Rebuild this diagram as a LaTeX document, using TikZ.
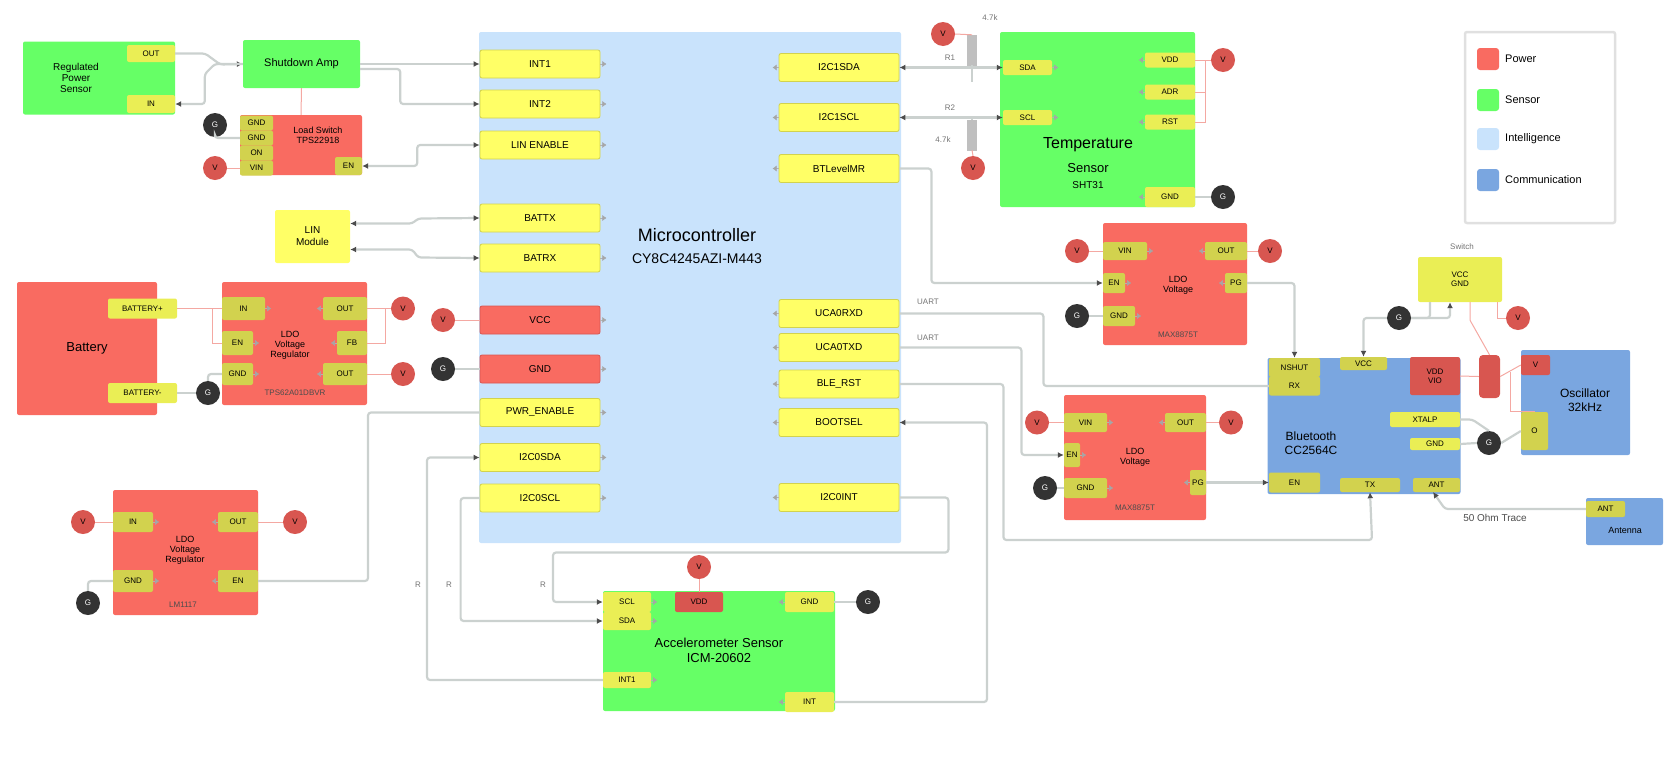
\documentclass[tikz,border=0pt]{standalone}
\usepackage{fontspec}
\setmainfont{Liberation Sans}
\usetikzlibrary{arrows.meta}
\definecolor{pwrred}{HTML}{F96B61}
\definecolor{sengreen}{HTML}{66FF66}
\definecolor{mcublue}{HTML}{C9E3FC}
\definecolor{comblue}{HTML}{7AA6E0}
\definecolor{padyellow}{HTML}{FFFF66}
\definecolor{padonred}{HTML}{D2D24E}
\definecolor{padongreen}{HTML}{EAEE55}
\definecolor{wirecol}{HTML}{CBD1CF}
\definecolor{redwire}{HTML}{F4A8A2}
\definecolor{dotred}{HTML}{D85650}
\tikzset{
 block/.style={rounded corners=2pt,inner sep=0pt,align=center,font=\fontsize{10}{12}\selectfont},
 pwrbox/.style={block,fill=pwrred},
 senbox/.style={block,fill=sengreen},
 mcubox/.style={block,fill=mcublue},
 combox/.style={block,fill=comblue},
 ybox/.style={block,fill=padyellow},
 mcupad/.style={block,fill=padyellow,draw=padonred,line width=.8pt,minimum width=120pt,minimum height=28pt},
 mcured/.style={mcupad,fill=pwrred,draw=dotred},
 redpad/.style={block,fill=padonred,font=\fontsize{8}{9}\selectfont},
 grnpad/.style={block,fill=padongreen,font=\fontsize{8}{9}\selectfont},
 combad/.style={block,fill=dotred,font=\fontsize{8}{9}\selectfont},
 vdot/.style={circle,fill=dotred,minimum size=24pt,inner sep=0pt,font=\fontsize{8}{9}\selectfont},
 gdot/.style={circle,fill=black!80,text=white,minimum size=24pt,inner sep=0pt,font=\fontsize{8}{9}\selectfont},
 wire/.style={draw=wirecol,line width=2.2pt,rounded corners=3pt},
 wirea/.style={wire,-{Latex[length=6pt,width=6pt,color=black!70]}},
 wireb/.style={wire,{Latex[length=6pt,width=6pt,color=black!70]}-{Latex[length=6pt,width=6pt,color=black!70]}},
 redw/.style={draw=redwire,line width=1pt},
 stub/.style={draw=black!30,line width=.4pt,-{Latex[length=4pt,width=6pt,color=black!35]}},
 lbl/.style={font=\fontsize{8}{9}\selectfont,text=black!55,inner sep=0pt},
 rlbl/.style={draw=black!25,fill=black!25,minimum width=9pt,minimum height=30pt,inner sep=0pt},
 swatch/.style={rounded corners=3pt,minimum size=22pt},
 legtxt/.style={anchor=west,font=\fontsize{11}{12}\selectfont,inner sep=0pt},
}
\begin{document}
\begin{tikzpicture}[x=1pt,y=-1pt]
\useasboundingbox (0,0) rectangle (1677,761);

% microcontroller
\node[mcubox,minimum width=422pt,minimum height=511pt] (mcu) at (690,287.5) {};
\node[font=\fontsize{18}{20}\selectfont] (mcutxt) at (697,235) {Microcontroller};
\node[font=\fontsize{14}{16}\selectfont] (mcuid) at (697,259) {CY8C4245AZI-M443};
\node[mcupad] (int1) at (540,64) {INT1};
\node[mcupad] (int2) at (540,104) {INT2};
\node[mcupad] (linen) at (540,145) {LIN ENABLE};
\node[mcupad] (lintx) at (540,218) {BATTX};
\node[mcupad] (linrx) at (540,258) {BATRX};
\node[mcured] (mcuvcc) at (540,320) {VCC};
\node[mcured] (mcugnd) at (540,369) {GND};
\node[mcupad] (pwren) at (540,412.5) {PWR\_ENABLE};
\node[mcupad] (i2csda) at (540,457.5) {I2C0SDA};
\node[mcupad] (i2cscl) at (540,498) {I2C0SCL};
\node[mcupad] (sda1) at (839,67.5) {I2C1SDA};
\node[mcupad] (scl1) at (839,117.5) {I2C1SCL};
\node[mcupad] (shdn) at (839,168.5) {BTLevelMR};
\node[mcupad] (uarx) at (839,313.5) {UCA0RXD};
\node[mcupad] (uatx) at (839,347.5) {UCA0TXD};
\node[mcupad] (blerst) at (839,384) {BLE\_RST};
\node[mcupad] (bsl) at (839,422.5) {BOOTSEL};
\node[mcupad] (accint) at (839,497.5) {I2C0INT};

% power input side
\node[senbox,minimum width=152pt,minimum height=73pt] (src) at (99,78) {};
\node[font=\fontsize{10}{11}\selectfont,align=center] (srctxt) at (76,78) {Regulated\\Power\\Sensor};
\node[grnpad,minimum width=48pt,minimum height=17pt] (srcout) at (151,53.5) {OUT};
\node[grnpad,minimum width=48pt,minimum height=18pt] (srcin) at (151,104) {IN};
\node[senbox,minimum width=117pt,minimum height=48pt,font=\fontsize{11}{12}\selectfont] (amp) at (301.5,64) {Shutdown Amp};
\node[pwrbox,minimum width=122pt,minimum height=60pt] (lsw) at (301,145) {};
\node[font=\fontsize{9}{10}\selectfont,align=center] (lswtxt) at (318,135) {Load Switch\\TPS22918};
\node[redpad,minimum width=33pt,minimum height=15pt] (lswa) at (256.5,123) {GND};
\node[redpad,minimum width=33pt,minimum height=15pt] (lswb) at (256.5,138) {GND};
\node[redpad,minimum width=33pt,minimum height=15pt] (lswc) at (256.5,153) {ON};
\node[redpad,minimum width=33pt,minimum height=15pt] (lswd) at (256.5,168) {VIN};
\node[redpad,minimum width=27pt,minimum height=18pt] (lswo) at (348.5,166) {EN};
\node[gdot] (g1) at (215,125) {G};
\node[vdot] (v1) at (215,168) {V};
\node[ybox,minimum width=75pt,minimum height=53pt] (lin) at (312.5,236.5) {LIN\\Module};

% battery and regulators
\node[pwrbox,minimum width=140pt,minimum height=133pt,font=\fontsize{13}{15}\selectfont] (batt) at (87,348.5) {Battery};
\node[grnpad,minimum width=69pt,minimum height=20pt] (batp) at (142.5,308.5) {BATTERY+};
\node[grnpad,minimum width=69pt,minimum height=20pt] (batn) at (142.5,393) {BATTERY-};
\node[pwrbox,minimum width=145pt,minimum height=123pt] (reg1) at (294.5,343.5) {};
\node[font=\fontsize{9}{10}\selectfont,align=center] (reg1txt) at (290,345) {LDO\\Voltage\\Regulator};
\node[lbl,text=black!70] (reg1id) at (295,393) {TPS62A01DBVR};
\node[redpad,minimum width=43pt,minimum height=23pt] (r1vin) at (243.5,308.5) {IN};
\node[redpad,minimum width=31pt,minimum height=24pt] (r1en) at (237.5,343) {EN};
\node[redpad,minimum width=31pt,minimum height=22pt] (r1gnd) at (237.5,374) {GND};
\node[redpad,minimum width=44pt,minimum height=23pt] (r1out) at (345,308.5) {OUT};
\node[redpad,minimum width=30pt,minimum height=24pt] (r1fb) at (352,343) {FB};
\node[redpad,minimum width=44pt,minimum height=22pt] (r1pg) at (345,374) {OUT};
\node[vdot] (v2) at (403,308.5) {V};
\node[vdot] (v3) at (403,374) {V};
\node[vdot] (v4) at (443,320) {V};
\node[gdot] (g2) at (443,369) {G};
\node[gdot] (g3) at (208,393) {G};
\node[pwrbox,minimum width=145pt,minimum height=125pt] (reg2) at (185.5,552.5) {};
\node[font=\fontsize{9}{10}\selectfont,align=center] (reg2txt) at (185,550) {LDO\\Voltage\\Regulator};
\node[lbl,text=black!70] (reg2id) at (183,605) {LM1117};
\node[redpad,minimum width=40pt,minimum height=20pt] (r2in) at (133,522) {IN};
\node[redpad,minimum width=40pt,minimum height=20pt] (r2out) at (238,522) {OUT};
\node[redpad,minimum width=40pt,minimum height=22pt] (r2gnd) at (133,581) {GND};
\node[redpad,minimum width=40pt,minimum height=22pt] (r2en) at (238,581) {EN};
\node[vdot] (v5) at (83,522) {V};
\node[vdot] (v6) at (295,522) {V};
\node[gdot] (g4) at (88,603) {G};

% accelerometer
\node[senbox,minimum width=232pt,minimum height=120pt] (acc) at (719,651) {};
\node[font=\fontsize{13}{15}\selectfont,align=center] (acctxt) at (719,650) {Accelerometer Sensor\\ICM-20602};
\node[grnpad,minimum width=48pt,minimum height=20pt] (accsda) at (627,602) {SCL};
\node[grnpad,minimum width=48pt,minimum height=18pt] (accscl) at (627,621) {SDA};
\node[grnpad,minimum width=48pt,minimum height=16pt] (accad) at (627,680) {INT1};
\node[combad,fill=dotred,minimum width=48pt,minimum height=20pt] (accvcc) at (699,602) {VDD};
\node[grnpad,minimum width=49pt,minimum height=20pt] (accgnd) at (809.5,602) {GND};
\node[grnpad,minimum width=49pt,minimum height=20pt] (accirq) at (809.5,702) {INT};
\node[vdot] (v7) at (699,567) {V};
\node[gdot] (g5) at (868,602) {G};

% temperature sensor
\node[senbox,minimum width=195pt,minimum height=175pt] (tmp) at (1097.5,119.5) {};
\node[font=\fontsize{16}{18}\selectfont] (tmptxt) at (1088,145) {Temperature};
\node[font=\fontsize{13}{15}\selectfont] (tmptxb) at (1088,168) {Sensor};
\node[font=\fontsize{10}{12}\selectfont] (tmpid) at (1088,185) {SHT31};
\node[grnpad,minimum width=49pt,minimum height=15pt] (tmpsda) at (1027.5,67.5) {SDA};
\node[grnpad,minimum width=49pt,minimum height=15pt] (tmpscl) at (1027.5,117.5) {SCL};
\node[grnpad,minimum width=50pt,minimum height=15pt] (tmpa) at (1170,60) {VDD};
\node[grnpad,minimum width=50pt,minimum height=15pt] (tmpb) at (1170,92) {ADR};
\node[grnpad,minimum width=50pt,minimum height=15pt] (tmpc) at (1170,122) {RST};
\node[grnpad,minimum width=50pt,minimum height=20pt] (tmpg) at (1170,197) {GND};
\node[vdot] (v8) at (943,34) {V};
\node[vdot] (v9) at (973,168) {V};
\node[vdot] (v10) at (1223,60) {V};
\node[gdot] (g6) at (1223,197) {G};
\node[rlbl] (res1) at (972,50) {};
\node[rlbl] (res2) at (972,135) {};
\node[lbl] (r1lbl) at (950,58) {R1};
\node[lbl] (r2lbl) at (950,108) {R2};
\node[lbl] (r3lbl) at (943,140) {4.7k};
\node[lbl] (r4lbl) at (990,18) {4.7k};

% regulators for bluetooth
\node[pwrbox,minimum width=144pt,minimum height=122pt] (reg3) at (1175,284) {};
\node[font=\fontsize{9}{10}\selectfont,align=center] (reg3txt) at (1178,285) {LDO\\Voltage};
\node[lbl,text=black!70] (reg3id) at (1178,335) {MAX8875T};
\node[redpad,minimum width=44pt,minimum height=18pt] (r3in) at (1125,251) {VIN};
\node[redpad,minimum width=22pt,minimum height=20pt] (r3en) at (1114,283) {EN};
\node[redpad,minimum width=32pt,minimum height=20pt] (r3gnd) at (1119,316) {GND};
\node[redpad,minimum width=42pt,minimum height=18pt] (r3out) at (1226,251) {OUT};
\node[redpad,minimum width=22pt,minimum height=20pt] (r3pg) at (1236,283) {PG};
\node[vdot] (v11) at (1077,251) {V};
\node[vdot] (v12) at (1270,251) {V};
\node[gdot] (g7) at (1077,316) {G};
\node[pwrbox,minimum width=142pt,minimum height=125pt] (reg4) at (1135,457.5) {};
\node[font=\fontsize{9}{10}\selectfont,align=center] (reg4txt) at (1135,457) {LDO\\Voltage};
\node[lbl,text=black!70] (reg4id) at (1135,508) {MAX8875T};
\node[redpad,minimum width=43pt,minimum height=19pt] (r4in) at (1085.5,422.5) {VIN};
\node[redpad,minimum width=16pt,minimum height=24pt] (r4en) at (1072,455) {EN};
\node[redpad,minimum width=43pt,minimum height=20pt] (r4gnd) at (1085.5,488) {GND};
\node[redpad,minimum width=41pt,minimum height=19pt] (r4out) at (1185.5,422.5) {OUT};
\node[redpad,minimum width=16pt,minimum height=25pt] (r4pg) at (1198,482.5) {PG};
\node[vdot] (v13) at (1037,422.5) {V};
\node[vdot] (v14) at (1231,422.5) {V};
\node[gdot] (g8) at (1045,488) {G};

% bluetooth and friends
\node[combox,minimum width=193pt,minimum height=136pt] (ble) at (1364,426) {};
\node[font=\fontsize{12}{14}\selectfont,align=center] (bletxt) at (1311,443) {Bluetooth\\CC2564C};
\node[redpad,minimum width=51pt,minimum height=19pt] (bleen) at (1294.5,367.5) {NSHUT};
\node[redpad,minimum width=51pt,minimum height=19pt] (blerx) at (1294.5,386) {RX};
\node[redpad,minimum width=47pt,minimum height=13pt] (blesw) at (1363.5,363.5) {VCC};
\node[combad,minimum width=50pt,minimum height=38pt,align=center] (blevd) at (1435,376) {VDD\\VIO};
\node[redpad,fill=padongreen,minimum width=70pt,minimum height=15pt] (blexo) at (1425,419.5) {XTALP};
\node[redpad,fill=padongreen,minimum width=50pt,minimum height=12pt] (blegn) at (1435,444) {GND};
\node[redpad,minimum width=51pt,minimum height=20pt] (blepg) at (1294.5,482.5) {EN};
\node[redpad,minimum width=60pt,minimum height=14pt] (bletx) at (1370,485) {TX};
\node[redpad,minimum width=47pt,minimum height=14pt] (bleant) at (1436.5,485) {ANT};
\node[ybox,fill=padongreen,minimum width=84pt,minimum height=45pt,font=\fontsize{8}{9}\selectfont] (swi) at (1460,279.5) {VCC\\GND};
\node[lbl] (switxt) at (1462,247) {Switch};
\node[gdot] (g9) at (1399,318) {G};
\node[vdot] (v15) at (1518,318) {V};
\node[gdot] (g10) at (1489,443) {G};
\node[combad,minimum width=21pt,minimum height=43pt,rounded corners=4pt] (cap) at (1489.5,376.5) {};
\node[combox,minimum width=109pt,minimum height=105pt] (osc) at (1575.5,402.5) {};
\node[font=\fontsize{12}{14}\selectfont,align=center] (osctxt) at (1585,400) {Oscillator\\32kHz};
\node[combad,minimum width=29pt,minimum height=20pt] (oscvd) at (1535.5,365) {V};
\node[redpad,fill=padonred,minimum width=27pt,minimum height=38pt] (oscp) at (1534.5,431) {O};
\node[combox,minimum width=77pt,minimum height=47pt] (ant) at (1624.5,521.5) {};
\node[font=\fontsize{9}{10}\selectfont,align=center] (anttxt) at (1625,530) {Antenna};
\node[redpad,minimum width=39pt,minimum height=16pt] (antp) at (1605.5,509) {ANT};
\node[lbl,text=black!70,font=\fontsize{10}{11}\selectfont] (trace) at (1495,518) {50 Ohm Trace};
\coordinate (antend) at (1433,492);

% legend
\node[draw=black!12,line width=2.5pt,rounded corners=2pt,minimum width=150pt,minimum height=191pt] (leg) at (1540,127.5) {};
\node[swatch,fill=pwrred] (lpow) at (1488,59) {};
\node[swatch,fill=sengreen] (lsen) at (1488,100) {};
\node[swatch,fill=mcublue] (lint) at (1488,139) {};
\node[swatch,fill=comblue] (lcom) at (1488,180) {};
\node[legtxt] (lpowt) at (1505,59) {Power};
\node[legtxt] (lsent) at (1505,100) {Sensor};
\node[legtxt] (lintt) at (1505,139) {Intelligence};
\node[legtxt] (lcomt) at (1505,180) {Communication};

% little marks on the pads
\foreach \p in {int1,int2,linen,lintx,linrx,mcuvcc,mcugnd,pwren,i2csda,i2cscl,r1vin,r1en,r1gnd,r2in,r2gnd,r3in,r3en,r3gnd,r4in,r4en,r4gnd,tmpsda,tmpscl,accsda,accscl,accad}
  \draw[stub] (\p.east) -- ++(6,0);
\foreach \p in {sda1,scl1,shdn,uarx,uatx,blerst,bsl,accint,r1out,r1fb,r1pg,r2out,r2en,r3out,r3pg,r4out,r4pg,tmpa,tmpb,tmpc,tmpg,accgnd,accirq}
  \draw[stub] (\p.west) -- ++(-6,0);

% connectors, grey
\draw[wirea] (srcout.east) -- ++(30,0) -- ++(15,11) -- (amp.west);
\draw[wirea] (amp.west) -- ++(-28,0) -- ++(-10,10) |- (srcin.east);
\draw[wirea] (amp.east) -- (int1.west);
\draw[wirea] ([yshift=-5pt]amp.east) -- ++(40,0) |- (int2.west);
\draw[wire] (g1.south) |- (lswb.west);
\draw[wireb] (lswo.east) -- ++(55,0) -- ++(0,-21) -- (linen.west);
\draw[wireb] ([yshift=13pt]lin.east) -- ++(62,0) -- ++(6,-5) -- (lintx.west);
\draw[wireb] ([yshift=-13pt]lin.east) -- ++(62,0) -- ++(6,8) -- (linrx.west);
\draw[wire] (batn.east) -- (g3.west);
\draw[wire] (g3.north) |- (r1gnd.west);
\draw[wire] (g2.east) -- (mcugnd.west);
\draw[wire] (r2en.east) -| (368,412.5) -- (pwren.west);
\draw[wire] (r2gnd.west) -| (g4.north);
\draw[wirea] (accint.east) -- ++(49,0) -- ++(0,55) -| (553,602) -- (accsda.west);
\draw[wirea] (i2cscl.west) -- ++(-19,0) |- (accscl.west);
\draw[wirea] (accad.west) -| (427,457.5) -- (i2csda.west);
\draw[wirea] (accirq.east) -| (987,422.5) -- (bsl.east);
\draw[wire] (accgnd.east) -- (g5.west);
\draw[wireb] (sda1.east) -- (tmpsda.west);
\draw[wireb] (scl1.east) -- (tmpscl.west);
\draw[wire] (res1.south) -- ++(0,17);
\draw[wire] (res2.north) -- ++(0,-3);
\draw[wire] (tmpg.east) -- (g6.west);
\draw[wirea] (shdn.east) -- ++(32,0) |- (r3en.west);
\draw[wire] (r3gnd.west) -- (g7.east);
\draw[wirea] (r3pg.east) -| (bleen.north);
\draw[wire] (uarx.east) -- ++(144,0) |- (blerx.west);
\draw[wirea] (uatx.east) -- ++(122,0) |- (r4en.west);
\draw[wire] (r4gnd.west) -- (g8.east);
\draw[wirea] (r4pg.east) -- (blepg.west);
\draw[wirea] (blerst.east) -- ++(104,0) |- (1372,540) -- (bletx.south);
\draw[wire] (blexo.east) -- ++(12,0) -- (g10.north);
\draw[wire] (blegn.east) -- (g10.west);
\draw[wire] (g10.east) -- (oscp.west);
\draw[wirea] (antp.west) -- (1445,509) -- (antend);
\draw[wirea] (g9.west) -| (blesw.north);
\draw[wirea] (g9.east) -| ([xshift=-10pt]swi.south);
\draw[wire] (g9.east) -| ([xshift=-30pt]swi.south);

% connectors, red
\draw[redw] (amp.south) -- (lsw.north);
\draw[redw] (v1.east) -- (lswd.west);
\draw[redw] (batp.east) -- (r1vin.west);
\draw[redw] (212,308.5) |- (r1en.west);
\draw[redw] (r1out.east) -- (v2.west);
\draw[redw] (r1fb.east) -- ++(18,0) -- ++(0,-34.5);
\draw[redw] (r1pg.east) -- (v3.west);
\draw[redw] (v4.east) -- (mcuvcc.west);
\draw[redw] (v5.east) -- (r2in.west);
\draw[redw] (r2out.east) -- (v6.west);
\draw[redw] (v7.south) -- (accvcc.north);
\draw[redw] (v8.east) -- (res1.north);
\draw[redw] (v9.north) -- (res2.south);
\draw[redw] (tmpa.east) -- (v10.west);
\draw[redw] (tmpb.east) -| (1205,60);
\draw[redw] (tmpc.east) -| (1205,92);
\draw[redw] (v11.east) -- (r3in.west);
\draw[redw] (r3out.east) -- (v12.west);
\draw[redw] (v13.east) -- (r4in.west);
\draw[redw] (r4out.east) -- (v14.west);
\draw[redw] (blevd.east) -- (cap.west);
\draw[redw] (cap.east) -- (oscvd.west);
\draw[redw] (1510,372) |- (oscp.north);
\draw[redw] ([xshift=10pt]swi.south) -- ++(0,18) -- (cap.north);
\draw[redw] ([xshift=37pt]swi.south) |- (v15.west);

% small labels
\node[lbl] (ua1) at (928,302) {UART};
\node[lbl] (ua2) at (928,338) {UART};
\node[lbl] (rp1) at (418,585) {R};
\node[lbl] (rp2) at (449,585) {R};
\node[lbl] (rp3) at (543,585) {R};
\end{tikzpicture}
\end{document}
